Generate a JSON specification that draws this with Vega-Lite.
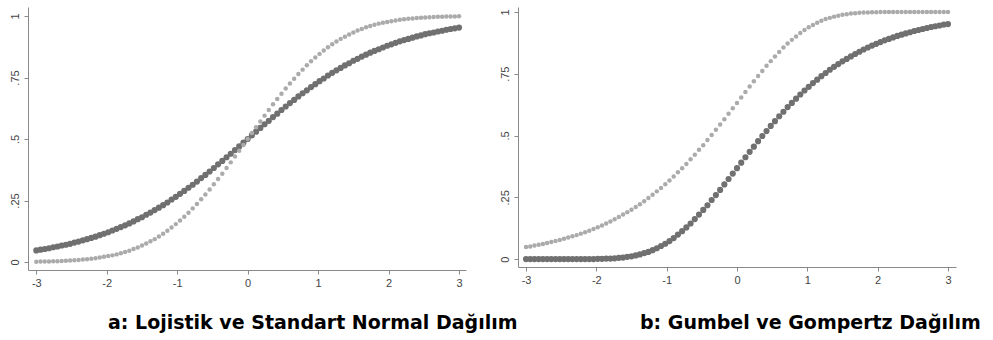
{
  "$schema": "https://vega.github.io/schema/vega-lite/v6.json",
  "padding": {"left": 8, "top": 7, "right": 0, "bottom": 0},
  "autosize": {"type": "pad"},
  "background": "white",
  "spacing": 52,
  "bounds": "flush",
  "config": {
    "view": {"stroke": null},
    "axis": {"domainColor": "#8a8a8a", "tickColor": "#8a8a8a", "tickSize": 4, "labelColor": "#444444", "labelFont": "Liberation Sans", "labelFontSize": 11, "grid": false, "title": null}
  },
  "datasets": {
    "d": [
      {"x": -3, "lo": 0.047, "no": 0.001, "gu": 0.049, "go": 0},
      {"x": -2.94, "lo": 0.050, "no": 0.002, "gu": 0.051, "go": 0},
      {"x": -2.88, "lo": 0.053, "no": 0.002, "gu": 0.055, "go": 0},
      {"x": -2.82, "lo": 0.056, "no": 0.002, "gu": 0.058, "go": 0},
      {"x": -2.76, "lo": 0.060, "no": 0.003, "gu": 0.061, "go": 0},
      {"x": -2.7, "lo": 0.063, "no": 0.003, "gu": 0.065, "go": 0},
      {"x": -2.64, "lo": 0.067, "no": 0.004, "gu": 0.069, "go": 0},
      {"x": -2.58, "lo": 0.070, "no": 0.005, "gu": 0.073, "go": 0},
      {"x": -2.52, "lo": 0.074, "no": 0.006, "gu": 0.077, "go": 0},
      {"x": -2.46, "lo": 0.079, "no": 0.007, "gu": 0.082, "go": 0},
      {"x": -2.4, "lo": 0.083, "no": 0.008, "gu": 0.087, "go": 0},
      {"x": -2.34, "lo": 0.088, "no": 0.010, "gu": 0.092, "go": 0},
      {"x": -2.28, "lo": 0.093, "no": 0.011, "gu": 0.097, "go": 0},
      {"x": -2.22, "lo": 0.098, "no": 0.013, "gu": 0.103, "go": 0},
      {"x": -2.16, "lo": 0.103, "no": 0.015, "gu": 0.109, "go": 0},
      {"x": -2.1, "lo": 0.109, "no": 0.018, "gu": 0.115, "go": 0},
      {"x": -2.04, "lo": 0.115, "no": 0.021, "gu": 0.122, "go": 0},
      {"x": -1.98, "lo": 0.121, "no": 0.024, "gu": 0.129, "go": 0.001},
      {"x": -1.92, "lo": 0.128, "no": 0.027, "gu": 0.136, "go": 0.001},
      {"x": -1.86, "lo": 0.135, "no": 0.031, "gu": 0.144, "go": 0.002},
      {"x": -1.8, "lo": 0.142, "no": 0.036, "gu": 0.152, "go": 0.002},
      {"x": -1.74, "lo": 0.149, "no": 0.041, "gu": 0.161, "go": 0.003},
      {"x": -1.68, "lo": 0.157, "no": 0.046, "gu": 0.170, "go": 0.005},
      {"x": -1.62, "lo": 0.165, "no": 0.053, "gu": 0.180, "go": 0.006},
      {"x": -1.56, "lo": 0.174, "no": 0.059, "gu": 0.190, "go": 0.009},
      {"x": -1.5, "lo": 0.182, "no": 0.067, "gu": 0.200, "go": 0.011},
      {"x": -1.44, "lo": 0.192, "no": 0.075, "gu": 0.211, "go": 0.015},
      {"x": -1.38, "lo": 0.201, "no": 0.084, "gu": 0.222, "go": 0.019},
      {"x": -1.32, "lo": 0.211, "no": 0.093, "gu": 0.234, "go": 0.024},
      {"x": -1.26, "lo": 0.221, "no": 0.104, "gu": 0.247, "go": 0.029},
      {"x": -1.2, "lo": 0.231, "no": 0.115, "gu": 0.260, "go": 0.036},
      {"x": -1.14, "lo": 0.242, "no": 0.127, "gu": 0.274, "go": 0.044},
      {"x": -1.08, "lo": 0.254, "no": 0.140, "gu": 0.288, "go": 0.053},
      {"x": -1.02, "lo": 0.265, "no": 0.154, "gu": 0.303, "go": 0.062},
      {"x": -0.96, "lo": 0.277, "no": 0.169, "gu": 0.318, "go": 0.073},
      {"x": -0.9, "lo": 0.289, "no": 0.184, "gu": 0.334, "go": 0.085},
      {"x": -0.84, "lo": 0.302, "no": 0.200, "gu": 0.351, "go": 0.099},
      {"x": -0.78, "lo": 0.314, "no": 0.218, "gu": 0.368, "go": 0.113},
      {"x": -0.72, "lo": 0.327, "no": 0.236, "gu": 0.385, "go": 0.128},
      {"x": -0.66, "lo": 0.341, "no": 0.255, "gu": 0.404, "go": 0.144},
      {"x": -0.6, "lo": 0.354, "no": 0.274, "gu": 0.422, "go": 0.162},
      {"x": -0.54, "lo": 0.368, "no": 0.295, "gu": 0.442, "go": 0.180},
      {"x": -0.48, "lo": 0.382, "no": 0.316, "gu": 0.461, "go": 0.199},
      {"x": -0.42, "lo": 0.397, "no": 0.337, "gu": 0.482, "go": 0.218},
      {"x": -0.36, "lo": 0.411, "no": 0.359, "gu": 0.502, "go": 0.239},
      {"x": -0.3, "lo": 0.426, "no": 0.382, "gu": 0.523, "go": 0.259},
      {"x": -0.24, "lo": 0.440, "no": 0.405, "gu": 0.545, "go": 0.280},
      {"x": -0.18, "lo": 0.455, "no": 0.429, "gu": 0.566, "go": 0.302},
      {"x": -0.12, "lo": 0.470, "no": 0.452, "gu": 0.588, "go": 0.324},
      {"x": -0.06, "lo": 0.485, "no": 0.476, "gu": 0.610, "go": 0.346},
      {"x": 0, "lo": 0.500, "no": 0.500, "gu": 0.632, "go": 0.368},
      {"x": 0.06, "lo": 0.515, "no": 0.524, "gu": 0.654, "go": 0.390},
      {"x": 0.12, "lo": 0.530, "no": 0.548, "gu": 0.676, "go": 0.412},
      {"x": 0.18, "lo": 0.545, "no": 0.571, "gu": 0.698, "go": 0.434},
      {"x": 0.24, "lo": 0.560, "no": 0.595, "gu": 0.720, "go": 0.455},
      {"x": 0.3, "lo": 0.574, "no": 0.618, "gu": 0.741, "go": 0.477},
      {"x": 0.36, "lo": 0.589, "no": 0.641, "gu": 0.761, "go": 0.498},
      {"x": 0.42, "lo": 0.603, "no": 0.663, "gu": 0.782, "go": 0.518},
      {"x": 0.48, "lo": 0.618, "no": 0.684, "gu": 0.801, "go": 0.539},
      {"x": 0.54, "lo": 0.632, "no": 0.705, "gu": 0.820, "go": 0.558},
      {"x": 0.6, "lo": 0.646, "no": 0.726, "gu": 0.838, "go": 0.578},
      {"x": 0.66, "lo": 0.659, "no": 0.745, "gu": 0.856, "go": 0.596},
      {"x": 0.72, "lo": 0.673, "no": 0.764, "gu": 0.872, "go": 0.615},
      {"x": 0.78, "lo": 0.686, "no": 0.782, "gu": 0.887, "go": 0.632},
      {"x": 0.84, "lo": 0.698, "no": 0.800, "gu": 0.901, "go": 0.649},
      {"x": 0.9, "lo": 0.711, "no": 0.816, "gu": 0.915, "go": 0.666},
      {"x": 0.96, "lo": 0.723, "no": 0.831, "gu": 0.927, "go": 0.682},
      {"x": 1.02, "lo": 0.735, "no": 0.846, "gu": 0.938, "go": 0.697},
      {"x": 1.08, "lo": 0.746, "no": 0.860, "gu": 0.947, "go": 0.712},
      {"x": 1.14, "lo": 0.758, "no": 0.873, "gu": 0.956, "go": 0.726},
      {"x": 1.2, "lo": 0.769, "no": 0.885, "gu": 0.964, "go": 0.740},
      {"x": 1.26, "lo": 0.779, "no": 0.896, "gu": 0.971, "go": 0.753},
      {"x": 1.32, "lo": 0.789, "no": 0.907, "gu": 0.976, "go": 0.766},
      {"x": 1.38, "lo": 0.799, "no": 0.916, "gu": 0.981, "go": 0.778},
      {"x": 1.44, "lo": 0.808, "no": 0.925, "gu": 0.985, "go": 0.789},
      {"x": 1.5, "lo": 0.818, "no": 0.933, "gu": 0.989, "go": 0.800},
      {"x": 1.56, "lo": 0.826, "no": 0.941, "gu": 0.991, "go": 0.810},
      {"x": 1.62, "lo": 0.835, "no": 0.947, "gu": 0.994, "go": 0.820},
      {"x": 1.68, "lo": 0.843, "no": 0.954, "gu": 0.995, "go": 0.830},
      {"x": 1.74, "lo": 0.851, "no": 0.959, "gu": 0.997, "go": 0.839},
      {"x": 1.8, "lo": 0.858, "no": 0.964, "gu": 0.998, "go": 0.848},
      {"x": 1.86, "lo": 0.865, "no": 0.969, "gu": 0.998, "go": 0.856},
      {"x": 1.92, "lo": 0.872, "no": 0.973, "gu": 0.999, "go": 0.864},
      {"x": 1.98, "lo": 0.879, "no": 0.976, "gu": 0.999, "go": 0.871},
      {"x": 2.04, "lo": 0.885, "no": 0.979, "gu": 1, "go": 0.878},
      {"x": 2.1, "lo": 0.891, "no": 0.982, "gu": 1, "go": 0.885},
      {"x": 2.16, "lo": 0.897, "no": 0.985, "gu": 1, "go": 0.891},
      {"x": 2.22, "lo": 0.902, "no": 0.987, "gu": 1, "go": 0.897},
      {"x": 2.28, "lo": 0.907, "no": 0.989, "gu": 1, "go": 0.903},
      {"x": 2.34, "lo": 0.912, "no": 0.990, "gu": 1, "go": 0.908},
      {"x": 2.4, "lo": 0.917, "no": 0.992, "gu": 1, "go": 0.913},
      {"x": 2.46, "lo": 0.921, "no": 0.993, "gu": 1, "go": 0.918},
      {"x": 2.52, "lo": 0.926, "no": 0.994, "gu": 1, "go": 0.923},
      {"x": 2.58, "lo": 0.930, "no": 0.995, "gu": 1, "go": 0.927},
      {"x": 2.64, "lo": 0.933, "no": 0.996, "gu": 1, "go": 0.931},
      {"x": 2.7, "lo": 0.937, "no": 0.997, "gu": 1, "go": 0.935},
      {"x": 2.76, "lo": 0.940, "no": 0.997, "gu": 1, "go": 0.939},
      {"x": 2.82, "lo": 0.944, "no": 0.998, "gu": 1, "go": 0.942},
      {"x": 2.88, "lo": 0.947, "no": 0.998, "gu": 1, "go": 0.945},
      {"x": 2.94, "lo": 0.950, "no": 0.998, "gu": 1, "go": 0.949},
      {"x": 3, "lo": 0.953, "no": 0.999, "gu": 1, "go": 0.951}
    ]
  },
  "hconcat": [
    {
      "width": 438,
      "height": 263,
      "data": {"name": "d"},
      "title": {"text": "a: Lojistik ve Standart Normal Dağılım", "orient": "bottom", "anchor": "start", "frame": "group", "dx": 80, "offset": 41, "baseline": "alphabetic", "font": "DejaVu Sans", "fontSize": 19, "fontWeight": "bold", "color": "#000000"},
      "encoding": {
        "x": {"field": "x", "type": "quantitative", "scale": {"domain": [-3.118, 3.099], "nice": false, "zero": false},
              "axis": {"values": [-3, -2, -1, 0, 1, 2, 3], "labelExpr": "toString(datum.value)", "labelPadding": 3}}
      },
      "layer": [
        {"mark": {"type": "circle", "size": 38, "color": "#707070", "opacity": 1},
         "encoding": {"y": {"field": "lo", "type": "quantitative", "scale": {"domain": [-0.0325, 1.0366], "nice": false, "zero": false},
           "axis": {"values": [0, 0.25, 0.5, 0.75, 1], "labelAngle": -90, "labelAlign": "center", "labelBaseline": "bottom", "labelPadding": 4, "labelExpr": "replace(toString(datum.value), '0.', '.')"}}}},
        {"mark": {"type": "circle", "size": 20, "color": "#ababab", "opacity": 1},
         "encoding": {"y": {"field": "no", "type": "quantitative"}}}
      ]
    },
    {
      "width": 438,
      "height": 260,
      "data": {"name": "d"},
      "title": {"text": "b: Gumbel ve Gompertz Dağılım", "orient": "bottom", "anchor": "start", "frame": "group", "dx": 122, "offset": 44, "baseline": "alphabetic", "font": "DejaVu Sans", "fontSize": 19, "fontWeight": "bold", "color": "#000000"},
      "encoding": {
        "x": {"field": "x", "type": "quantitative", "scale": {"domain": [-3.114, 3.114], "nice": false, "zero": false},
              "axis": {"values": [-3, -2, -1, 0, 1, 2, 3], "labelExpr": "toString(datum.value)", "labelPadding": 3}}
      },
      "layer": [
        {"mark": {"type": "circle", "size": 20, "color": "#ababab", "opacity": 1},
         "encoding": {"y": {"field": "gu", "type": "quantitative", "scale": {"domain": [-0.032, 1.02], "nice": false, "zero": false},
           "axis": {"values": [0, 0.25, 0.5, 0.75, 1], "labelAngle": -90, "labelAlign": "center", "labelBaseline": "bottom", "labelPadding": 4, "labelExpr": "replace(toString(datum.value), '0.', '.')"}}}},
        {"mark": {"type": "circle", "size": 38, "color": "#707070", "opacity": 1},
         "encoding": {"y": {"field": "go", "type": "quantitative"}}}
      ]
    }
  ]
}
